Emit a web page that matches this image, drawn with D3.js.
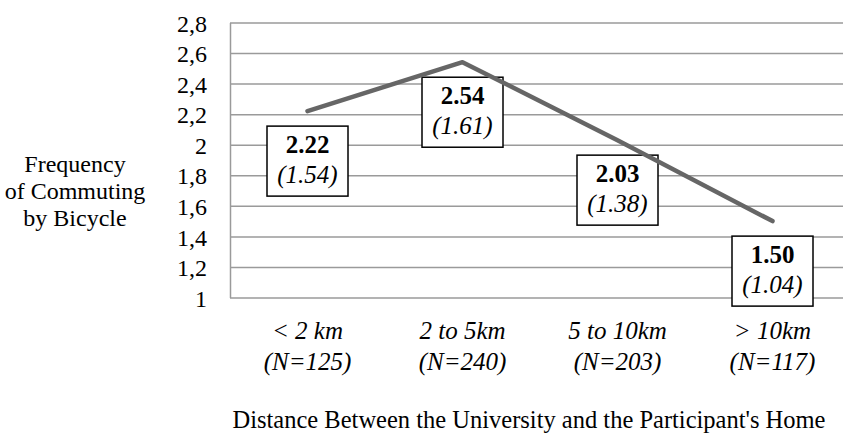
<!DOCTYPE html>
<html>
<head>
<meta charset="utf-8">
<script src="https://cdn.jsdelivr.net/npm/d3@7"></script>
<style>
  html, body { margin: 0; padding: 0; background: #fff; }
  svg { display: block; }
  text { font-family: "Liberation Serif", "Times New Roman", Times, serif; fill: #000; }
</style>
</head>
<body>
<svg id="chart" width="843" height="434"></svg>
<script>
const categories = ["< 2 km", "2 to 5km", "5 to 10km", "> 10km"];
const sampleSizes = ["(N=125)", "(N=240)", "(N=203)", "(N=117)"];
const means = [2.22, 2.54, 2.03, 1.50];
const sds = [1.54, 1.61, 1.38, 1.04];
const yTicks = [1, 1.2, 1.4, 1.6, 1.8, 2, 2.2, 2.4, 2.6, 2.8];
const yTitleLines = ["Frequency", "of Commuting", "by Bicycle"];
const xTitle = "Distance Between the University and the Participant's Home";

(function () {
const svg = d3.select("#chart");
const plotLeft = 230, plotRight = 850, plotTop = 22.5, plotBottom = 297.5;

const x = d3.scalePoint().domain(categories).range([plotLeft, plotRight]).padding(0.5);
const y = d3.scaleLinear().domain([1, 2.8]).range([plotBottom, plotTop]);

const fmt = d => String(+d.toFixed(1)).replace(".", ",");

// y axis with gridlines
const yAxis = d3.axisLeft(y)
  .tickValues(yTicks)
  .tickFormat(fmt)
  .tickSizeInner(-(plotRight - plotLeft))
  .tickSizeOuter(0)
  .tickPadding(23);

const gy = svg.append("g").attr("transform", `translate(${plotLeft},0)`).call(yAxis);
gy.select(".domain").attr("stroke", "#9a9a9a").attr("stroke-width", 1.5);
gy.selectAll(".tick line").attr("stroke", "#9a9a9a").attr("stroke-width", 1.5);
gy.selectAll(".tick text")
  .attr("font-size", 24)
  .attr("font-family", "'Liberation Serif', 'Times New Roman', serif")
  .attr("fill", "#000")
  .attr("dy", "0.36em");

// boxes (labels)
const boxW = 81, boxH = 70, boxGap = 15;
const labels = svg.append("g").selectAll("g")
  .data(categories.map((c, i) => ({ c, m: means[i], s: sds[i] })))
  .join("g")
  .attr("transform", d => `translate(${x(d.c)},${y(d.m) + boxGap})`);

labels.append("rect")
  .attr("x", -boxW / 2).attr("y", 0)
  .attr("width", boxW).attr("height", boxH)
  .attr("fill", "#fff").attr("stroke", "#000").attr("stroke-width", 1.5);

labels.append("text")
  .attr("x", 0).attr("y", 27)
  .attr("text-anchor", "middle")
  .attr("font-size", 25).attr("font-weight", "bold")
  .text(d => d.m.toFixed(2));

labels.append("text")
  .attr("x", 0).attr("y", 57)
  .attr("text-anchor", "middle")
  .attr("font-size", 25).attr("font-style", "italic")
  .text(d => `(${d.s.toFixed(2)})`);

// line
const line = d3.line().x((d, i) => x(categories[i])).y(d => y(d));
svg.append("path")
  .datum(means)
  .attr("d", line)
  .attr("fill", "none")
  .attr("stroke", "#666666")
  .attr("stroke-width", 4.5)
  .attr("stroke-linecap", "round")
  .attr("stroke-linejoin", "round");

// x category labels
const xl = svg.append("g").selectAll("text")
  .data(categories)
  .join("text")
  .attr("text-anchor", "middle")
  .attr("font-size", 25)
  .attr("font-style", "italic");
xl.append("tspan").attr("x", d => x(d)).attr("y", 339).text(d => d);
xl.append("tspan").attr("x", d => x(d)).attr("y", 370).text((d, i) => sampleSizes[i]);

// y title
svg.append("text")
  .attr("text-anchor", "middle")
  .attr("font-size", 24)
  .selectAll("tspan")
  .data(yTitleLines)
  .join("tspan")
  .attr("x", 75)
  .attr("y", (d, i) => 172 + i * 27)
  .text(d => d);

// x title
svg.append("text")
  .attr("x", 529).attr("y", 428)
  .attr("text-anchor", "middle")
  .attr("font-size", 24.5)
  .text(xTitle);
})();
</script>
</body>
</html>
